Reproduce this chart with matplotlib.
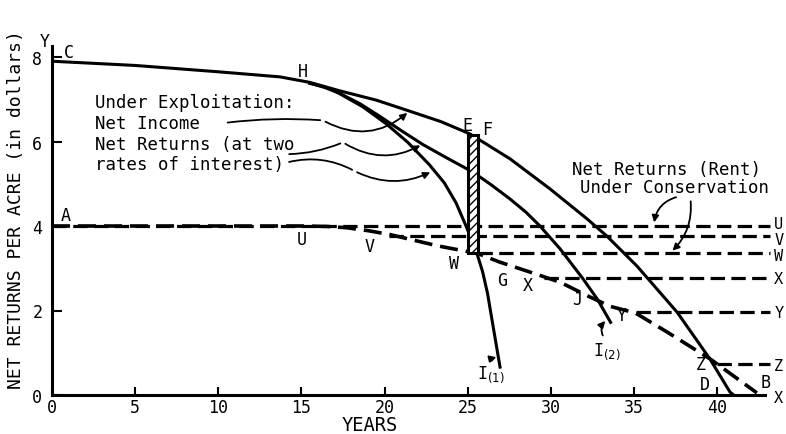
import matplotlib
matplotlib.use("Agg")
import matplotlib.pyplot as plt
from matplotlib.patches import Rectangle

plt.rcParams["font.family"] = ["DejaVu Sans Mono", "DejaVu Sans"]

# ---- data ----
income_x = [0, 5, 10, 13.7, 15.5, 17.3, 19.5, 21.5, 23.4, 25.14, 27.55, 29.95, 32.18, 33.38, 35.19, 37.6, 39.58, 40.78, 41.0]
income_y = [7.9, 7.8, 7.65, 7.53, 7.4, 7.2, 6.98, 6.72, 6.47, 6.18, 5.59, 4.88, 4.17, 3.76, 3.05, 1.96, 0.85, 0.07, 0]

ret2_x = [15.5, 16.4, 17.3, 18.5, 19.7, 21.0, 22.3, 23.8, 25.3, 26.4, 27.55, 28.5, 29.35, 30.56, 31.94, 32.8, 33.6]
ret2_y = [7.38, 7.28, 7.14, 6.9, 6.6, 6.26, 5.93, 5.6, 5.28, 4.98, 4.64, 4.33, 4.0, 3.46, 2.75, 2.27, 1.72]

ret1_x = [15.5, 16.3, 17.0, 18.7, 20.1, 21.4, 22.7, 23.6, 24.3, 24.85, 25.3, 25.6, 25.9, 26.2, 26.5, 26.95]
ret1_y = [7.38, 7.3, 7.2, 6.82, 6.42, 5.98, 5.45, 5.02, 4.55, 4.05, 3.62, 3.3, 2.92, 2.4, 1.7, 0.66]

cons_x = [0, 15, 16.5, 17.7, 19.0, 20.3, 23.2, 25.6, 26.9, 28.75, 30.56, 32.2, 33.56, 35.1, 37, 39.6, 42.4]
cons_y = [4.0, 4.0, 3.99, 3.96, 3.89, 3.8, 3.53, 3.35, 3.15, 2.91, 2.67, 2.35, 2.1, 1.94, 1.49, 0.85, 0.05]

rent_names = ["U", "V", "W", "X", "Y", "Z"]
rent_start = [0, 20.3, 25.6, 29.6, 35.1, 40.0]
rent_level = [4.0, 3.76, 3.35, 2.78, 1.96, 0.73]
rent_label_y = [4.07, 3.67, 3.29, 2.75, 1.96, 0.71]
rent_end = 43.2

gap_x = [25.0, 25.6]
gap_y = [3.35, 6.15]

x_ticks = [0, 5, 10, 15, 20, 25, 30, 35, 40]
y_ticks = [0, 2, 4, 6, 8]

# ---- figure ----
fig = plt.figure(figsize=(7.86, 4.35), dpi=100)
ax = fig.add_axes([52/786, 39/435, 734/786, 8.6*42.25/435])
ax.set_xlim(0, 734/16.625)
ax.set_ylim(0, 8.6)

K = "black"
lw = 2.2
ax.plot(income_x, income_y, color=K, lw=lw, solid_joinstyle="round")
ax.plot(ret2_x, ret2_y, color=K, lw=lw, solid_joinstyle="round")
ax.plot(ret1_x, ret1_y, color=K, lw=lw, solid_joinstyle="round")
ax.plot(cons_x, cons_y, color=K, lw=2.6, dashes=(5, 2.2))
for s, lv in zip(rent_start, rent_level):
    ax.plot([s, rent_end], [lv, lv], color=K, lw=2.3, dashes=(4.5, 2))

ax.add_patch(Rectangle((gap_x[0], gap_y[0]), gap_x[1]-gap_x[0], gap_y[1]-gap_y[0],
                       facecolor="white", edgecolor=K, lw=2.2, hatch="////", zorder=3))

# spines / ticks
for sp in ["top", "right"]:
    ax.spines[sp].set_visible(False)
ax.spines["left"].set_linewidth(2.2)
ax.spines["bottom"].set_linewidth(2.2)
ax.spines["left"].set_bounds(0, 8.25)
ax.spines["bottom"].set_bounds(0, 42.9)
ax.set_xticks(x_ticks)
ax.set_yticks(y_ticks)
ax.tick_params(axis="x", direction="in", length=6, width=1.5, labelsize=12, pad=2)
ax.tick_params(axis="y", direction="in", length=7, width=1.5, labelsize=12, pad=7)

fig.text(370/786, 1-426/435, "YEARS", fontsize=13.5, ha="center", va="center")
fig.text(16/786, 1-210/435, "NET RETURNS PER ACRE (in dollars)", fontsize=13,
         rotation=90, ha="center", va="center")

fs = 12
def lab(x, y, t, size=fs):
    ax.text(x, y, t, fontsize=size, ha="center", va="center", clip_on=False)

lab(-0.45, 8.38, "Y")
lab(1.0, 8.12, "C")
lab(0.85, 4.25, "A")
lab(15.1, 7.68, "H")
lab(25.0, 6.4, "E")
lab(26.2, 6.3, "F")
lab(15.0, 3.7, "U")
lab(19.1, 3.52, "V")
lab(24.2, 3.12, "W")
lab(27.1, 2.72, "G")
lab(28.6, 2.6, "X")
lab(31.6, 2.27, "J")
lab(34.3, 1.89, "Y")
lab(39.0, 0.73, "Z")
lab(39.3, 0.26, "D")
lab(42.9, 0.3, "B")
lab(26.4, 0.5, "I$_{(1)}$")
lab(33.4, 1.05, "I$_{(2)}$")
for n, ly in zip(rent_names, rent_label_y):
    ax.text(43.45, ly, n, fontsize=11, ha="left", va="center", clip_on=False)
ax.text(43.45, -0.05, "X", fontsize=11, ha="left", va="center", clip_on=False)

tfs = 12.5
ax.text(2.6, 6.93, "Under Exploitation:", fontsize=tfs, va="center")
ax.text(2.6, 6.44, "Net Income", fontsize=tfs, va="center")
ax.text(2.6, 5.94, "Net Returns (at two", fontsize=tfs, va="center")
ax.text(2.6, 5.47, "rates of interest)", fontsize=tfs, va="center")
ax.text(31.3, 5.35, "Net Returns (Rent)", fontsize=tfs, va="center")
ax.text(31.75, 4.92, "Under Conservation", fontsize=tfs, va="center")

arrow = dict(arrowstyle="-|>", color=K, lw=1.3, mutation_scale=10)
line = dict(arrowstyle="-", color=K, lw=1.3)
# Net Income pointer
ax.annotate("", xy=(16.3, 6.5), xytext=(10.4, 6.44),
            arrowprops=dict(line, connectionstyle="arc3,rad=-0.05"))
ax.annotate("", xy=(21.5, 6.72), xytext=(16.3, 6.5),
            arrowprops=dict(arrow, connectionstyle="arc3,rad=0.35"))
# Net Returns pointers
ax.annotate("", xy=(17.5, 5.98), xytext=(14.1, 5.7),
            arrowprops=dict(line, connectionstyle="arc3,rad=0.1"))
ax.annotate("", xy=(22.3, 5.94), xytext=(17.5, 5.98),
            arrowprops=dict(arrow, connectionstyle="arc3,rad=0.3"))
ax.annotate("", xy=(18.2, 5.3), xytext=(14.1, 5.5),
            arrowprops=dict(line, connectionstyle="arc3,rad=-0.2"))
ax.annotate("", xy=(22.9, 5.3), xytext=(18.2, 5.3),
            arrowprops=dict(arrow, connectionstyle="arc3,rad=0.25"))
# Conservation pointers
ax.annotate("", xy=(36.2, 4.02), xytext=(37.7, 4.7),
            arrowprops=dict(arrow, connectionstyle="arc3,rad=0.35"))
ax.annotate("", xy=(37.2, 3.37), xytext=(38.4, 4.65),
            arrowprops=dict(arrow, connectionstyle="arc3,rad=-0.25"))
# I labels pointers
ax.annotate("", xy=(26.9, 0.9), xytext=(26.4, 0.75),
            arrowprops=dict(arrow, connectionstyle="arc3,rad=-0.4"))
ax.annotate("", xy=(33.4, 1.8), xytext=(33.2, 1.35),
            arrowprops=dict(arrow, connectionstyle="arc3,rad=-0.4"))

fig.savefig("out.png", dpi=100)
